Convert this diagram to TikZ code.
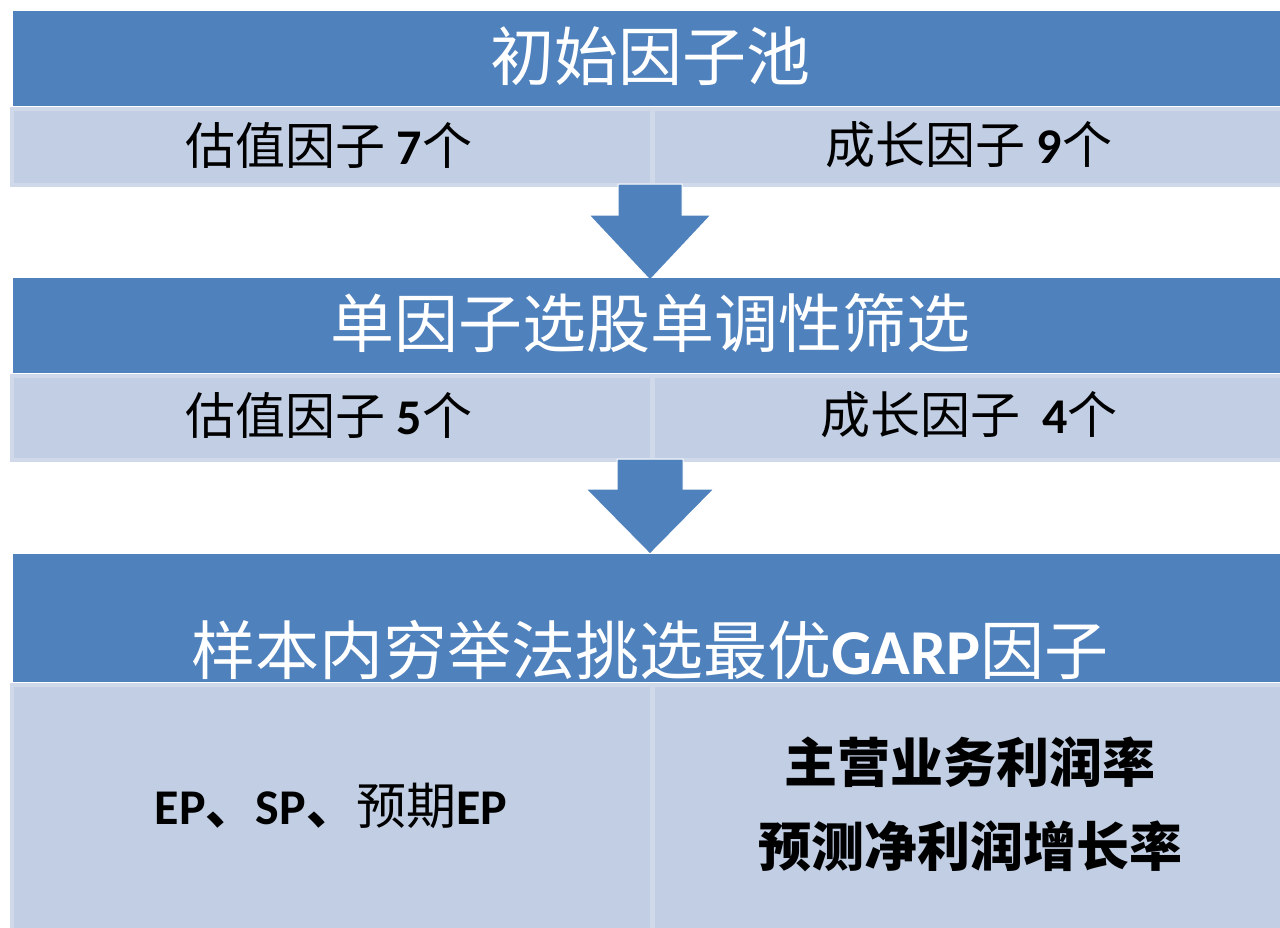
\documentclass[tikz,border=0pt]{standalone}
\usepackage{fontspec}
\setmainfont{Carlito}
\newfontfamily\cjk{Noto Sans CJK SC}
\newfontfamily\lat{Carlito}
\definecolor{hdrblue}{RGB}{79,129,189}
\definecolor{cellblue}{RGB}{193,206,227}
\definecolor{celledge}{RGB}{208,217,234}
\begin{document}
\begin{tikzpicture}[x=1pt,y=-1pt,
  hdr/.style={fill=hdrblue, draw=none, inner sep=0pt, anchor=north west},
  cell/.style={fill=cellblue, draw=celledge, line width=3.5pt, inner sep=0pt, anchor=north west},
  htext/.style={text=white, inner sep=0pt, font=\cjk\fontsize{64}{70}\selectfont},
  ctext/.style={text=black, inner sep=0pt, font=\cjk\fontsize{50}{58}\selectfont},
  btext/.style={text=black, inner sep=0pt, font=\cjk\bfseries\fontsize{53}{58}\selectfont, align=center},
  blockarrow/.style={fill=hdrblue, draw=white, line width=1pt}
]
\useasboundingbox[fill=white] (0,0) rectangle (1280,927);
% stage 1
\node[hdr, minimum width=1280pt, minimum height=95pt] (h1) at (13,11) {};
\node[cell, minimum width=640pt, minimum height=76pt] (c1l) at (10,107) {};
\node[cell, minimum width=630pt, minimum height=76pt] (c1r) at (651,107) {};
\node[htext] (t1) at (650,56) {初始因子池};
\node[ctext] (t1l) at (329,145) {估值因子 {\lat\bfseries 7}个};
\node[ctext] (t1r) at (969,145) {成长因子 {\lat\bfseries 9}个};
% arrow 1
\coordinate (a1top) at (650,184);
\coordinate (a1tip) at (650,280);
\fill[blockarrow] ([xshift=-32pt]a1top) -- ++(0,31) -- ++(-29,0) -- (a1tip) -- ++(61,-65) -- ++(-29,0) -- ([xshift=32pt]a1top) -- cycle;
% stage 2
\node[hdr, minimum width=1280pt, minimum height=95pt] (h2) at (13,278) {};
\node[cell, minimum width=640pt, minimum height=84pt] (c2l) at (10,374) {};
\node[cell, minimum width=630pt, minimum height=84pt] (c2r) at (651,374) {};
\node[htext] (t2) at (650,323) {单因子选股单调性筛选};
\node[ctext] (t2l) at (329,415) {估值因子 {\lat\bfseries 5}个};
\node[ctext] (t2r) at (969,415) {成长因子\ \ {\lat\bfseries 4}个};
% arrow 2
\coordinate (a2top) at (650,459);
\coordinate (a2tip) at (650,554);
\fill[blockarrow] ([xshift=-33pt]a2top) -- ++(0,30) -- ++(-31,0) -- (a2tip) -- ++(64,-65) -- ++(-31,0) -- ([xshift=33pt]a2top) -- cycle;
% stage 3
\node[hdr, minimum width=1280pt, minimum height=128pt] (h3) at (13,554) {};
\node[cell, minimum width=640pt, minimum height=250pt] (c3l) at (10,683) {};
\node[cell, minimum width=630pt, minimum height=250pt] (c3r) at (651,683) {};
\node[htext] (t3) at (650,650) {样本内穷举法挑选最优{\lat\bfseries GARP}因子};
\node[btext, font=\cjk\bfseries\fontsize{50}{58}\selectfont] (t3l) at (331,806) {{\lat EP}、{\lat SP}、{\mdseries 预期}{\lat EP}};
\node[btext] (t3r1) at (970,762) {主营业务利润率};
\node[btext] (t3r2) at (970,846) {预测净利润增长率};
\end{tikzpicture}
\end{document}
